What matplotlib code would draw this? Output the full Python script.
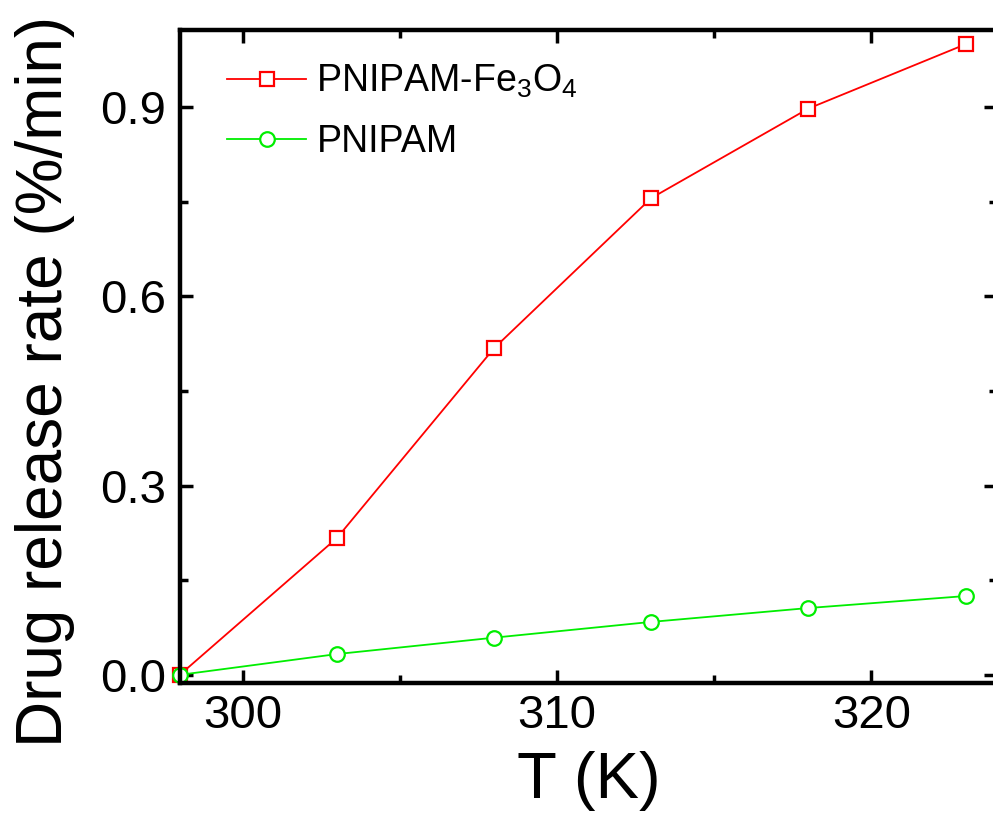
import numpy as np
import matplotlib
matplotlib.use('Agg')
from matplotlib import pyplot as plt
from matplotlib.ticker import MultipleLocator, FormatStrFormatter

# temperatures (K) and release rates (%/min)
temps = [298, 303, 308, 313, 318, 323]
rate_fe3o4 = [0.0, 0.217, 0.518, 0.756, 0.898, 1.0]
rate_pnipam = [0.0, 0.033, 0.059, 0.084, 0.106, 0.125]

label_fe3o4 = 'PNIPAM-Fe$_3$O$_4$'
label_pnipam = 'PNIPAM'


def main():
    plt.rcParams['font.family'] = ['Liberation Sans', 'DejaVu Sans']
    plt.rcParams['mathtext.default'] = 'regular'

    fig = plt.figure(figsize=(9.93, 8.21), dpi=100)
    # right edge of the axes sits just outside the picture (cropped spine)
    ax = fig.add_axes([0.181, 0.168, 0.823, 0.795])

    ax.plot(temps, rate_fe3o4, color='#ff0000', lw=1.3, marker='s', ms=10,
            mfc='white', mec='#ff0000', mew=1.6, label=label_fe3o4, clip_on=False)
    ax.plot(temps, rate_pnipam, color='#00ee00', lw=1.3, marker='o', ms=10.5,
            mfc='white', mec='#00ee00', mew=1.6, label=label_pnipam, clip_on=False)

    ax.set_xlim(298, 324)
    ax.set_ylim(-0.013, 1.022)
    ax.xaxis.set_major_locator(MultipleLocator(10))
    ax.xaxis.set_minor_locator(MultipleLocator(5))
    ax.yaxis.set_major_locator(MultipleLocator(0.3))
    ax.yaxis.set_minor_locator(MultipleLocator(0.15))
    ax.yaxis.set_major_formatter(FormatStrFormatter('%.1f'))

    ax.tick_params(which='both', direction='in', top=True, right=True, width=2.5)
    ax.tick_params(which='major', length=9.5, labelsize=34)
    ax.tick_params(which='minor', length=6)
    ax.tick_params(axis='y', which='major', pad=10)
    ax.tick_params(axis='x', which='major', pad=8)
    for sp in ax.spines.values():
        sp.set_linewidth(3.2)

    ax.set_xlabel('T (K)', fontsize=47, labelpad=9)
    ax.set_ylabel('Drug release rate (%/min)', fontsize=46)
    ax.yaxis.set_label_coords(-0.128, 0.4625)

    ax.legend(loc='upper left', bbox_to_anchor=(0.058, 0.950), frameon=False,
              fontsize=27, handlelength=2.1, handletextpad=0.28,
              labelspacing=0.64, borderaxespad=0.0, borderpad=0.0)

    fig.savefig('out.png', dpi=100)


if __name__ == '__main__':
    main()
